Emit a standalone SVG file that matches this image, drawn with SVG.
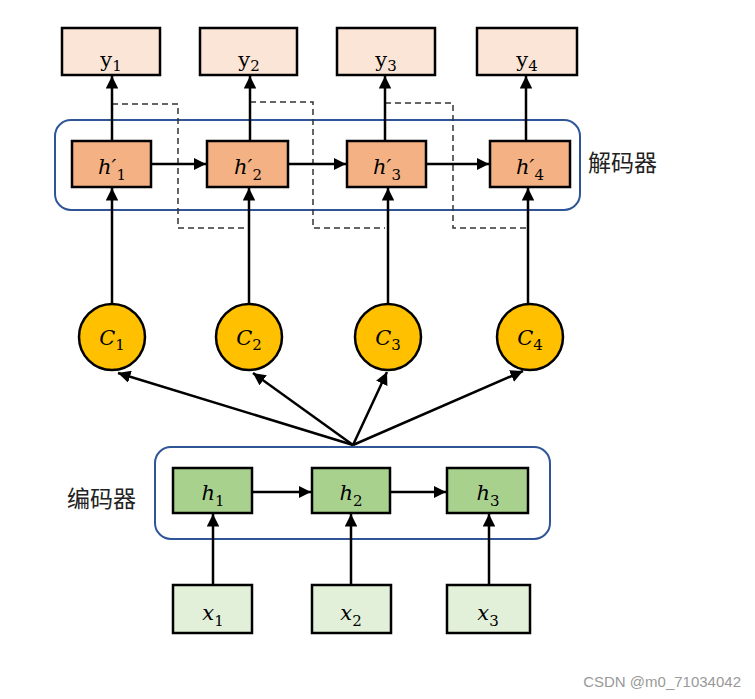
<svg xmlns="http://www.w3.org/2000/svg" width="755" height="699" viewBox="0 0 755 699">
<defs>
<marker id="ah" viewBox="0 0 10 10" refX="10" refY="5" markerWidth="5" markerHeight="5" orient="auto" markerUnits="strokeWidth">
<path d="M0,0 L10,5 L0,10 z" fill="#000"/>
</marker>
<style>
.box{stroke:#000;stroke-width:2.5}
.y{fill:#fbe5d6}
.hp{fill:#f4b183}
.c{fill:#ffc000}
.h{fill:#a9d18e}
.x{fill:#e2f0d9}
.grp{fill:none;stroke:#2f5597;stroke-width:2}
.m{font-family:"DejaVu Serif","Liberation Serif",serif;font-size:21px;font-style:italic;fill:#000;text-anchor:middle}
.mu{font-family:"DejaVu Serif","Liberation Serif",serif;font-size:21px;fill:#000;text-anchor:middle}
.s{font-size:15px;font-style:normal}
.ln{stroke:#000;stroke-width:2.5;fill:none;marker-end:url(#ah)}
.dash{stroke:#333;stroke-width:1.5;fill:none;stroke-dasharray:6,4}
.lab{font-family:"Noto Sans CJK SC","Noto Sans",sans-serif;font-size:23px;fill:#222}
</style>
</defs>
<rect width="755" height="699" fill="#fff"/>

<g id="decoder-group"><rect class="grp" x="55" y="120" width="525" height="90" rx="16"/></g>
<g id="encoder-group"><rect class="grp" x="155" y="447" width="395" height="92" rx="16"/></g>

<g id="connectors">
<path class="dash" d="M112,104 H178 V228 H247"/>
<path class="dash" d="M250,102 H313 V228 H385"/>
<path class="dash" d="M385,103 H453 V228 H526"/>
<line class="ln" x1="112" y1="141" x2="112" y2="76"/>
<line class="ln" x1="250" y1="141" x2="250" y2="76"/>
<line class="ln" x1="385" y1="141" x2="385" y2="76"/>
<line class="ln" x1="526" y1="141" x2="526" y2="76"/>
<line class="ln" x1="151" y1="164" x2="206" y2="164"/>
<line class="ln" x1="288" y1="164" x2="346" y2="164"/>
<line class="ln" x1="426" y1="164" x2="489" y2="164"/>
<line class="ln" x1="112" y1="303" x2="112" y2="188"/>
<line class="ln" x1="249" y1="303" x2="249" y2="188"/>
<line class="ln" x1="388" y1="303" x2="388" y2="188"/>
<line class="ln" x1="528" y1="303" x2="528" y2="188"/>
<line class="ln" x1="353" y1="445" x2="118" y2="373"/>
<line class="ln" x1="353" y1="445" x2="253" y2="373"/>
<line class="ln" x1="353" y1="445" x2="387" y2="372"/>
<line class="ln" x1="353" y1="445" x2="523" y2="371"/>
<line class="ln" x1="252" y1="492" x2="311" y2="492"/>
<line class="ln" x1="390" y1="492" x2="446" y2="492"/>
<line class="ln" x1="213" y1="585" x2="213" y2="514"/>
<line class="ln" x1="351" y1="585" x2="351" y2="514"/>
<line class="ln" x1="489" y1="585" x2="489" y2="514"/>
</g>

<g id="y1"><rect class="box y" x="62" y="28" width="98" height="47"/><text class="mu" x="111" y="67">y<tspan class="s" dy="4">1</tspan></text></g>
<g id="y2"><rect class="box y" x="200" y="28" width="97" height="47"/><text class="mu" x="249" y="67">y<tspan class="s" dy="4">2</tspan></text></g>
<g id="y3"><rect class="box y" x="337" y="28" width="98" height="47"/><text class="mu" x="386" y="67">y<tspan class="s" dy="4">3</tspan></text></g>
<g id="y4"><rect class="box y" x="477" y="28" width="100" height="47"/><text class="mu" x="527" y="67">y<tspan class="s" dy="4">4</tspan></text></g>

<g id="hp1"><rect class="box hp" x="72" y="141" width="79" height="46"/><text class="m" x="112" y="174">h′<tspan class="s" dy="6">1</tspan></text></g>
<g id="hp2"><rect class="box hp" x="207" y="141" width="81" height="46"/><text class="m" x="248" y="174">h′<tspan class="s" dy="6">2</tspan></text></g>
<g id="hp3"><rect class="box hp" x="347" y="141" width="79" height="46"/><text class="m" x="387" y="174">h′<tspan class="s" dy="6">3</tspan></text></g>
<g id="hp4"><rect class="box hp" x="490" y="141" width="80" height="46"/><text class="m" x="530" y="174">h′<tspan class="s" dy="6">4</tspan></text></g>

<g id="c1"><circle class="box c" cx="112" cy="337" r="33"/><text class="m" x="112" y="345">C<tspan class="s" dy="5">1</tspan></text></g>
<g id="c2"><circle class="box c" cx="249" cy="337" r="33"/><text class="m" x="249" y="345">C<tspan class="s" dy="5">2</tspan></text></g>
<g id="c3"><circle class="box c" cx="388" cy="337" r="33"/><text class="m" x="388" y="345">C<tspan class="s" dy="5">3</tspan></text></g>
<g id="c4"><circle class="box c" cx="530" cy="337" r="33"/><text class="m" x="530" y="345">C<tspan class="s" dy="5">4</tspan></text></g>

<g id="h1"><rect class="box h" x="173" y="468" width="79" height="45"/><text class="m" x="213" y="500">h<tspan class="s" dy="6">1</tspan></text></g>
<g id="h2"><rect class="box h" x="312" y="468" width="78" height="45"/><text class="m" x="351" y="500">h<tspan class="s" dy="6">2</tspan></text></g>
<g id="h3"><rect class="box h" x="447" y="468" width="81" height="45"/><text class="m" x="488" y="500">h<tspan class="s" dy="6">3</tspan></text></g>

<g id="x1"><rect class="box x" x="173" y="585" width="79" height="48"/><text class="m" x="213" y="620">x<tspan class="s" dy="6">1</tspan></text></g>
<g id="x2"><rect class="box x" x="312" y="585" width="79" height="48"/><text class="m" x="351" y="620">x<tspan class="s" dy="6">2</tspan></text></g>
<g id="x3"><rect class="box x" x="447" y="585" width="83" height="48"/><text class="m" x="488" y="620">x<tspan class="s" dy="6">3</tspan></text></g>

<g id="labels">
<text class="lab" x="588" y="171">解码器</text>
<text class="lab" x="67" y="507">编码器</text>
<text x="741" y="687" text-anchor="end" font-family="Liberation Sans, Arial, sans-serif" font-size="15" fill="#999">CSDN @m0_71034042</text>
</g>
</svg>
